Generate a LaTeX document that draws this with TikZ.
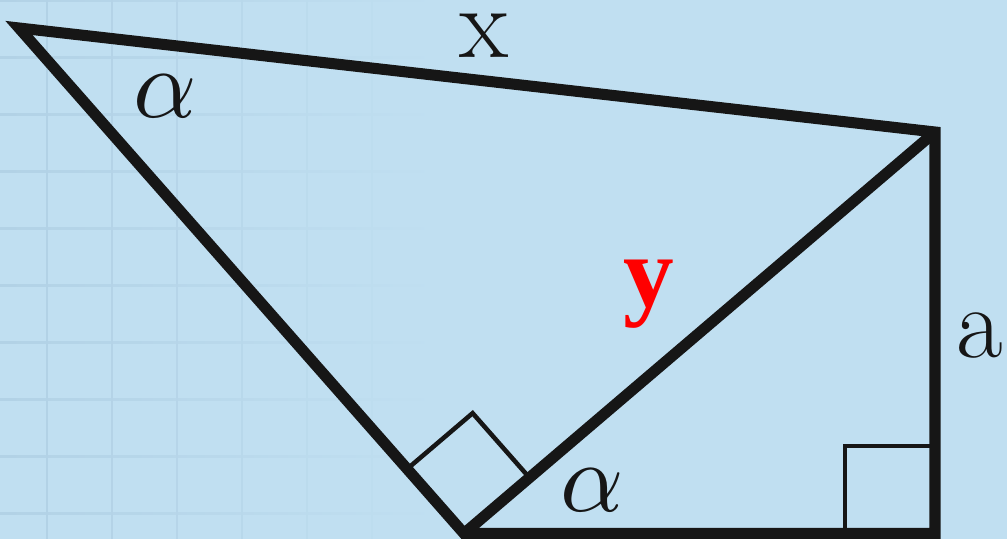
\documentclass[tikz,border=0pt]{standalone}
\usepackage{fontspec}
\usepackage{graphicx}
\newfontfamily\lserifb{Liberation Serif}
\usetikzlibrary{calc}
\definecolor{bg}{RGB}{192,223,241}
\definecolor{gridc}{RGB}{178,210,230}
\definecolor{ink}{RGB}{22,22,22}
\definecolor{yred}{RGB}{255,0,0}
\newcommand{\bigalpha}{\scalebox{7.4}{\normalsize$\alpha$}}
\tikzset{
  side/.style={draw=ink, line width=8.3pt, line join=miter},
  anglemark/.style={draw=ink, line width=3.4pt, line join=miter},
  lbl/.style={inner sep=0pt, text=ink, font=\rmfamily\fontsize{76}{84}\selectfont},
  albl/.style={inner sep=0pt, text=ink},
  ylbl/.style={inner sep=0pt, text=yred, font=\lserifb\bfseries\fontsize{76}{84}\selectfont},
}
\begin{document}
\begin{tikzpicture}[x=0.75pt, y=-0.75pt]
\fill[bg] (0,0) rectangle (1007,539);
\useasboundingbox (0,0) rectangle (1007,539);
% faint background grid on the left
\foreach \gy in {0,57,114,171,228,285,342,399,456,513}
  \shade[left color=gridc, right color=bg] (0,\gy-1) rectangle (440,\gy+1);
\foreach \gx/\gp in {47/100,112/90,177/75,242/55,307/35,372/18}
  \fill[gridc!\gp!bg] (\gx-1,0) rectangle (\gx+1,539);
% vertices
\coordinate (A) at (19,28);
\coordinate (B) at (935,132);
\coordinate (C) at (464,533.5);
\coordinate (D) at (935,533.5);
% right angle marks
\coordinate (P1) at ($(C)!64.5pt!(A)$);
\coordinate (P2) at ($(C)!64.5pt!(B)$);
\draw[anglemark] (P1) -- ($(P1)+(P2)-(C)$) -- (P2);
\draw[anglemark] ($(D)+(-90,0)$) -- ($(D)+(-90,-87.5)$) -- ($(D)+(0,-87.5)$);
% triangle sides
\draw[side] (A) -- (B) -- (D) -- (C) -- cycle;
\draw[side] (C) -- (B);
% labels
\node[lbl] (lx) at (484.5,35.3) {x};
\node[albl] (la1) at (165,96) {\bigalpha};
\node[albl] (la2) at (592.5,490) {\bigalpha};
\node[ylbl] (ly) at (649,294) {y};
\node[lbl] (la) at (980,336) {a};
\end{tikzpicture}
\end{document}
